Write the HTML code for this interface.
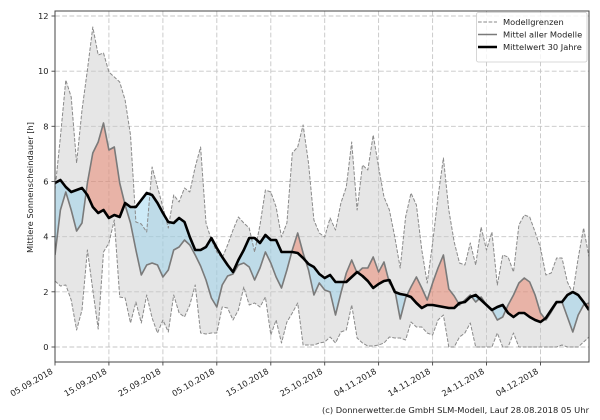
<!DOCTYPE html>
<html><head><meta charset="utf-8"><style>body{margin:0;background:#fff}svg{display:block}</style></head><body>
<svg xmlns="http://www.w3.org/2000/svg" width="600" height="420" viewBox="0 0 600 420" font-family="'DejaVu Sans','Liberation Sans',sans-serif">
<defs>
<clipPath id="plot"><rect x="55" y="11" width="534" height="351"/></clipPath>
<clipPath id="aboveB"><polygon points="55,183 60.4,180 65.8,187 71.2,192 76.6,190 82,188 87.4,195 92.8,207 98.2,213 103.5,210 108.9,218 114.3,215 119.7,217 125.1,203 130.5,207 135.9,207 141.3,200 146.7,193 152.1,195 157.5,203 162.9,213 168.3,222 173.7,223 179.1,218 184.5,222 189.8,237 195.2,250 200.6,250 206,247 211.4,238 216.8,248 222.2,257 227.6,265 233,272 238.4,260 243.8,250 249.2,238 254.6,238 260,243 265.4,235 270.8,240 276.1,240 281.5,252 286.9,252 292.3,252 297.7,253 303.1,258 308.5,264 313.9,267 319.3,274 324.7,278 330.1,275 335.5,282 340.9,282 346.3,282 351.7,277 357.1,272 362.5,276 367.8,281 373.2,288 378.6,284 384,281 389.4,280 394.8,292 400.2,294 405.6,295 411,297 416.4,303 421.8,308 427.2,305 432.6,305 438,306 443.4,307 448.8,308 454.2,308 459.5,303 464.9,302 470.3,297 475.7,295 481.1,300 486.5,305 491.9,310 497.3,307 502.7,305 508.1,313 513.5,317 518.9,313 524.3,313 529.7,317 535.1,320 540.5,322 545.9,318 551.2,310 556.6,302 562,302 567.4,295 572.8,292 578.2,295 583.6,302 589,310 589,11 55,11"/></clipPath>
<clipPath id="belowB"><polygon points="55,183 60.4,180 65.8,187 71.2,192 76.6,190 82,188 87.4,195 92.8,207 98.2,213 103.5,210 108.9,218 114.3,215 119.7,217 125.1,203 130.5,207 135.9,207 141.3,200 146.7,193 152.1,195 157.5,203 162.9,213 168.3,222 173.7,223 179.1,218 184.5,222 189.8,237 195.2,250 200.6,250 206,247 211.4,238 216.8,248 222.2,257 227.6,265 233,272 238.4,260 243.8,250 249.2,238 254.6,238 260,243 265.4,235 270.8,240 276.1,240 281.5,252 286.9,252 292.3,252 297.7,253 303.1,258 308.5,264 313.9,267 319.3,274 324.7,278 330.1,275 335.5,282 340.9,282 346.3,282 351.7,277 357.1,272 362.5,276 367.8,281 373.2,288 378.6,284 384,281 389.4,280 394.8,292 400.2,294 405.6,295 411,297 416.4,303 421.8,308 427.2,305 432.6,305 438,306 443.4,307 448.8,308 454.2,308 459.5,303 464.9,302 470.3,297 475.7,295 481.1,300 486.5,305 491.9,310 497.3,307 502.7,305 508.1,313 513.5,317 518.9,313 524.3,313 529.7,317 535.1,320 540.5,322 545.9,318 551.2,310 556.6,302 562,302 567.4,295 572.8,292 578.2,295 583.6,302 589,310 589,362 55,362"/></clipPath>
</defs>
<rect width="600" height="420" fill="#fff"/>

<!-- grid -->
<g stroke="#c6c6c6" stroke-width="0.9" stroke-dasharray="4.8,2.4" fill="none">
<line x1="55" y1="347" x2="589" y2="347"/>
<line x1="55" y1="291.8" x2="589" y2="291.8"/>
<line x1="55" y1="236.7" x2="589" y2="236.7"/>
<line x1="55" y1="181.5" x2="589" y2="181.5"/>
<line x1="55" y1="126.3" x2="589" y2="126.3"/>
<line x1="55" y1="71.2" x2="589" y2="71.2"/>
<line x1="55" y1="16" x2="589" y2="16"/>
<line x1="108.9" y1="11" x2="108.9" y2="362"/>
<line x1="162.9" y1="11" x2="162.9" y2="362"/>
<line x1="216.8" y1="11" x2="216.8" y2="362"/>
<line x1="270.8" y1="11" x2="270.8" y2="362"/>
<line x1="324.7" y1="11" x2="324.7" y2="362"/>
<line x1="378.6" y1="11" x2="378.6" y2="362"/>
<line x1="432.6" y1="11" x2="432.6" y2="362"/>
<line x1="486.5" y1="11" x2="486.5" y2="362"/>
<line x1="540.5" y1="11" x2="540.5" y2="362"/>
</g>

<g clip-path="url(#plot)">
<!-- model range -->
<polygon fill="#c8c8c8" fill-opacity="0.45" points="55,190 60.4,137 65.8,80 71.2,97 76.6,163 82,110 87.4,70 92.8,27 98.2,55 103.5,53 108.9,72 114.3,77 119.7,82 125.1,100 130.5,135 135.9,222 141.3,224 146.7,232 152.1,167 157.5,187 162.9,207 168.3,228 173.7,195 179.1,202 184.5,188 189.8,192 195.2,167 200.6,147 206,223 211.4,240 216.8,252 222.2,258 227.6,245 233,230 238.4,217 243.8,223 249.2,228 254.6,252 260,225 265.4,190 270.8,192 276.1,207 281.5,237 286.9,223 292.3,153 297.7,147 303.1,125 308.5,163 313.9,220 319.3,233 324.7,237 330.1,218 335.5,230 340.9,203 346.3,187 351.7,142 357.1,210 362.5,165 367.8,170 373.2,135 378.6,167 384,197 389.4,210 394.8,237 400.2,268 405.6,217 411,193 416.4,205 421.8,250 427.2,283 432.6,243 438,197 443.4,158 448.8,210 454.2,242 459.5,263 464.9,265 470.3,243 475.7,265 481.1,227 486.5,250 491.9,232 497.3,285 502.7,255 508.1,257 513.5,272 518.9,225 524.3,215 529.7,217 535.1,232 540.5,248 545.9,275 551.2,273 556.6,258 562,258 567.4,282 572.8,293 578.2,258 583.6,228 589,257 589,337 583.6,342 578.2,347 572.8,347 567.4,347 562,345 556.6,347 551.2,347 545.9,347 540.5,347 535.1,347 529.7,347 524.3,347 518.9,347 513.5,333 508.1,347 502.7,347 497.3,333 491.9,347 486.5,347 481.1,347 475.7,347 470.3,323 464.9,333 459.5,337 454.2,347 448.8,347 443.4,315 438,320 432.6,335 427.2,333 421.8,327 416.4,327 411,322 405.6,340 400.2,338 394.8,338 389.4,337 384,343 378.6,345 373.2,346 367.8,346 362.5,343 357.1,338 351.7,305 346.3,330 340.9,332 335.5,343 330.1,337 324.7,342 319.3,343 313.9,345 308.5,345 303.1,345 297.7,303 292.3,313 286.9,322 281.5,343 276.1,320 270.8,335 265.4,297 260,307 254.6,303 249.2,305 243.8,287 238.4,310 233,320 227.6,308 222.2,307 216.8,333 211.4,333 206,334 200.6,333 195.2,285 189.8,305 184.5,317 179.1,313 173.7,295 168.3,332 162.9,320 157.5,333 152.1,318 146.7,295 141.3,323 135.9,302 130.5,323 125.1,298 119.7,297 114.3,220 108.9,243 103.5,252 98.2,329 92.8,290 87.4,250 82,310 76.6,330 71.2,300 65.8,285 60.4,286 55,281"/>

<!-- red: model mean above climatology -->
<g clip-path="url(#aboveB)">
<polygon fill="rgb(235,110,80)" fill-opacity="0.42" points="55,255 60.4,210 65.8,192 71.2,210 76.6,231 82,223 87.4,183 92.8,153 98.2,142 103.5,123 108.9,150 114.3,147 119.7,183 125.1,205 130.5,223 135.9,250 141.3,275 146.7,265 152.1,263 157.5,265 162.9,277 168.3,270 173.7,250 179.1,247 184.5,240 189.8,245 195.2,255 200.6,266 206,280 211.4,298 216.8,307 222.2,285 227.6,276 233,274 238.4,265 243.8,263 249.2,267 254.6,280 260,268 265.4,252 270.8,263 276.1,277 281.5,288 286.9,270 292.3,250 297.7,233 303.1,253 308.5,270 313.9,295 319.3,283 324.7,290 330.1,292 335.5,315 340.9,293 346.3,273 351.7,260 357.1,273 362.5,268 367.8,268 373.2,257 378.6,272 384,262 389.4,283 394.8,290 400.2,319 405.6,298 411,287 416.4,277 421.8,288 427.2,300 432.6,283 438,268 443.4,255 448.8,289 454.2,296 459.5,305 464.9,300 470.3,295 475.7,302 481.1,297 486.5,305 491.9,310 497.3,320 502.7,317 508.1,305 513.5,295 518.9,283 524.3,278 529.7,282 535.1,295 540.5,313 545.9,320 551.2,312 556.6,303 562,302 567.4,317 572.8,332 578.2,315 583.6,305 589,303 589,362 55,362"/>
</g>
<!-- blue: model mean below climatology -->
<g clip-path="url(#belowB)">
<polygon fill="rgb(135,206,235)" fill-opacity="0.42" points="55,255 60.4,210 65.8,192 71.2,210 76.6,231 82,223 87.4,183 92.8,153 98.2,142 103.5,123 108.9,150 114.3,147 119.7,183 125.1,205 130.5,223 135.9,250 141.3,275 146.7,265 152.1,263 157.5,265 162.9,277 168.3,270 173.7,250 179.1,247 184.5,240 189.8,245 195.2,255 200.6,266 206,280 211.4,298 216.8,307 222.2,285 227.6,276 233,274 238.4,265 243.8,263 249.2,267 254.6,280 260,268 265.4,252 270.8,263 276.1,277 281.5,288 286.9,270 292.3,250 297.7,233 303.1,253 308.5,270 313.9,295 319.3,283 324.7,290 330.1,292 335.5,315 340.9,293 346.3,273 351.7,260 357.1,273 362.5,268 367.8,268 373.2,257 378.6,272 384,262 389.4,283 394.8,290 400.2,319 405.6,298 411,287 416.4,277 421.8,288 427.2,300 432.6,283 438,268 443.4,255 448.8,289 454.2,296 459.5,305 464.9,300 470.3,295 475.7,302 481.1,297 486.5,305 491.9,310 497.3,320 502.7,317 508.1,305 513.5,295 518.9,283 524.3,278 529.7,282 535.1,295 540.5,313 545.9,320 551.2,312 556.6,303 562,302 567.4,317 572.8,332 578.2,315 583.6,305 589,303 589,11 55,11"/>
</g>

<!-- model bounds -->
<g fill="none" stroke="#8a8a8a" stroke-width="1" stroke-dasharray="3.7,1.6" stroke-linejoin="round">
<polyline points="55,190 60.4,137 65.8,80 71.2,97 76.6,163 82,110 87.4,70 92.8,27 98.2,55 103.5,53 108.9,72 114.3,77 119.7,82 125.1,100 130.5,135 135.9,222 141.3,224 146.7,232 152.1,167 157.5,187 162.9,207 168.3,228 173.7,195 179.1,202 184.5,188 189.8,192 195.2,167 200.6,147 206,223 211.4,240 216.8,252 222.2,258 227.6,245 233,230 238.4,217 243.8,223 249.2,228 254.6,252 260,225 265.4,190 270.8,192 276.1,207 281.5,237 286.9,223 292.3,153 297.7,147 303.1,125 308.5,163 313.9,220 319.3,233 324.7,237 330.1,218 335.5,230 340.9,203 346.3,187 351.7,142 357.1,210 362.5,165 367.8,170 373.2,135 378.6,167 384,197 389.4,210 394.8,237 400.2,268 405.6,217 411,193 416.4,205 421.8,250 427.2,283 432.6,243 438,197 443.4,158 448.8,210 454.2,242 459.5,263 464.9,265 470.3,243 475.7,265 481.1,227 486.5,250 491.9,232 497.3,285 502.7,255 508.1,257 513.5,272 518.9,225 524.3,215 529.7,217 535.1,232 540.5,248 545.9,275 551.2,273 556.6,258 562,258 567.4,282 572.8,293 578.2,258 583.6,228 589,257"/>
<polyline points="55,281 60.4,286 65.8,285 71.2,300 76.6,330 82,310 87.4,250 92.8,290 98.2,329 103.5,252 108.9,243 114.3,220 119.7,297 125.1,298 130.5,323 135.9,302 141.3,323 146.7,295 152.1,318 157.5,333 162.9,320 168.3,332 173.7,295 179.1,313 184.5,317 189.8,305 195.2,285 200.6,333 206,334 211.4,333 216.8,333 222.2,307 227.6,308 233,320 238.4,310 243.8,287 249.2,305 254.6,303 260,307 265.4,297 270.8,335 276.1,320 281.5,343 286.9,322 292.3,313 297.7,303 303.1,345 308.5,345 313.9,345 319.3,343 324.7,342 330.1,337 335.5,343 340.9,332 346.3,330 351.7,305 357.1,338 362.5,343 367.8,346 373.2,346 378.6,345 384,343 389.4,337 394.8,338 400.2,338 405.6,340 411,322 416.4,327 421.8,327 427.2,333 432.6,335 438,320 443.4,315 448.8,347 454.2,347 459.5,337 464.9,333 470.3,323 475.7,347 481.1,347 486.5,347 491.9,347 497.3,333 502.7,347 508.1,347 513.5,333 518.9,347 524.3,347 529.7,347 535.1,347 540.5,347 545.9,347 551.2,347 556.6,347 562,345 567.4,347 572.8,347 578.2,347 583.6,342 589,337"/>
</g>

<!-- model mean -->
<polyline fill="none" stroke="#7a7a7a" stroke-width="1.6" stroke-linejoin="round" points="55,255 60.4,210 65.8,192 71.2,210 76.6,231 82,223 87.4,183 92.8,153 98.2,142 103.5,123 108.9,150 114.3,147 119.7,183 125.1,205 130.5,223 135.9,250 141.3,275 146.7,265 152.1,263 157.5,265 162.9,277 168.3,270 173.7,250 179.1,247 184.5,240 189.8,245 195.2,255 200.6,266 206,280 211.4,298 216.8,307 222.2,285 227.6,276 233,274 238.4,265 243.8,263 249.2,267 254.6,280 260,268 265.4,252 270.8,263 276.1,277 281.5,288 286.9,270 292.3,250 297.7,233 303.1,253 308.5,270 313.9,295 319.3,283 324.7,290 330.1,292 335.5,315 340.9,293 346.3,273 351.7,260 357.1,273 362.5,268 367.8,268 373.2,257 378.6,272 384,262 389.4,283 394.8,290 400.2,319 405.6,298 411,287 416.4,277 421.8,288 427.2,300 432.6,283 438,268 443.4,255 448.8,289 454.2,296 459.5,305 464.9,300 470.3,295 475.7,302 481.1,297 486.5,305 491.9,310 497.3,320 502.7,317 508.1,305 513.5,295 518.9,283 524.3,278 529.7,282 535.1,295 540.5,313 545.9,320 551.2,312 556.6,303 562,302 567.4,317 572.8,332 578.2,315 583.6,305 589,303"/>

<!-- 30-year mean -->
<polyline fill="none" stroke="#000" stroke-width="2.6" stroke-linejoin="round" points="55,183 60.4,180 65.8,187 71.2,192 76.6,190 82,188 87.4,195 92.8,207 98.2,213 103.5,210 108.9,218 114.3,215 119.7,217 125.1,203 130.5,207 135.9,207 141.3,200 146.7,193 152.1,195 157.5,203 162.9,213 168.3,222 173.7,223 179.1,218 184.5,222 189.8,237 195.2,250 200.6,250 206,247 211.4,238 216.8,248 222.2,257 227.6,265 233,272 238.4,260 243.8,250 249.2,238 254.6,238 260,243 265.4,235 270.8,240 276.1,240 281.5,252 286.9,252 292.3,252 297.7,253 303.1,258 308.5,264 313.9,267 319.3,274 324.7,278 330.1,275 335.5,282 340.9,282 346.3,282 351.7,277 357.1,272 362.5,276 367.8,281 373.2,288 378.6,284 384,281 389.4,280 394.8,292 400.2,294 405.6,295 411,297 416.4,303 421.8,308 427.2,305 432.6,305 438,306 443.4,307 448.8,308 454.2,308 459.5,303 464.9,302 470.3,297 475.7,295 481.1,300 486.5,305 491.9,310 497.3,307 502.7,305 508.1,313 513.5,317 518.9,313 524.3,313 529.7,317 535.1,320 540.5,322 545.9,318 551.2,310 556.6,302 562,302 567.4,295 572.8,292 578.2,295 583.6,302 589,310"/>
</g>

<!-- spines -->
<rect x="55" y="11" width="534" height="351" fill="none" stroke="#444" stroke-width="1"/>

<!-- ticks -->
<g stroke="#444" stroke-width="0.9">
<line x1="51.5" y1="347" x2="55" y2="347"/>
<line x1="51.5" y1="291.8" x2="55" y2="291.8"/>
<line x1="51.5" y1="236.7" x2="55" y2="236.7"/>
<line x1="51.5" y1="181.5" x2="55" y2="181.5"/>
<line x1="51.5" y1="126.3" x2="55" y2="126.3"/>
<line x1="51.5" y1="71.2" x2="55" y2="71.2"/>
<line x1="51.5" y1="16" x2="55" y2="16"/>
<line x1="55" y1="362" x2="55" y2="365.5"/>
<line x1="108.9" y1="362" x2="108.9" y2="365.5"/>
<line x1="162.9" y1="362" x2="162.9" y2="365.5"/>
<line x1="216.8" y1="362" x2="216.8" y2="365.5"/>
<line x1="270.8" y1="362" x2="270.8" y2="365.5"/>
<line x1="324.7" y1="362" x2="324.7" y2="365.5"/>
<line x1="378.6" y1="362" x2="378.6" y2="365.5"/>
<line x1="432.6" y1="362" x2="432.6" y2="365.5"/>
<line x1="486.5" y1="362" x2="486.5" y2="365.5"/>
<line x1="540.5" y1="362" x2="540.5" y2="365.5"/>
</g>

<!-- y tick labels -->
<g font-size="8.3" fill="#222" text-anchor="end">
<text x="48.5" y="350">0</text>
<text x="48.5" y="294.8">2</text>
<text x="48.5" y="239.7">4</text>
<text x="48.5" y="184.5">6</text>
<text x="48.5" y="129.3">8</text>
<text x="48.5" y="74.2">10</text>
<text x="48.5" y="19">12</text>
</g>

<!-- x tick labels -->
<g font-size="8.3" fill="#222" text-anchor="end">
<text transform="translate(53.5,373) rotate(-30)">05.09.2018</text>
<text transform="translate(107.4,373) rotate(-30)">15.09.2018</text>
<text transform="translate(161.4,373) rotate(-30)">25.09.2018</text>
<text transform="translate(215.3,373) rotate(-30)">05.10.2018</text>
<text transform="translate(269.3,373) rotate(-30)">15.10.2018</text>
<text transform="translate(323.2,373) rotate(-30)">25.10.2018</text>
<text transform="translate(377.1,373) rotate(-30)">04.11.2018</text>
<text transform="translate(431.1,373) rotate(-30)">14.11.2018</text>
<text transform="translate(485,373) rotate(-30)">24.11.2018</text>
<text transform="translate(539,373) rotate(-30)">04.12.2018</text>
</g>

<!-- y axis label -->
<text transform="translate(33,187.5) rotate(-90)" font-size="8.3" fill="#222" text-anchor="middle" textLength="131" lengthAdjust="spacingAndGlyphs">Mittlere Sonnenscheindauer [h]</text>

<!-- legend -->
<rect x="476.5" y="12.5" width="110.5" height="49.5" rx="2" ry="2" fill="#fff" fill-opacity="0.8" stroke="#cccccc" stroke-width="0.8"/>
<line x1="478" y1="22" x2="497" y2="22" stroke="#8a8a8a" stroke-width="1" stroke-dasharray="3.7,1.6"/>
<line x1="478" y1="34.5" x2="497" y2="34.5" stroke="#7a7a7a" stroke-width="1.6"/>
<line x1="478" y1="47" x2="497" y2="47" stroke="#000" stroke-width="2.6"/>
<g font-size="8.3" fill="#222">
<text x="503" y="25">Modellgrenzen</text>
<text x="503" y="37.5">Mittel aller Modelle</text>
<text x="503" y="50">Mittelwert 30 Jahre</text>
</g>

<!-- footer -->
<text x="589" y="413" font-size="8.3" fill="#222" text-anchor="end" textLength="267" lengthAdjust="spacingAndGlyphs">(c) Donnerwetter.de GmbH SLM-Modell, Lauf 28.08.2018 05 Uhr</text>
</svg>
</body></html>
